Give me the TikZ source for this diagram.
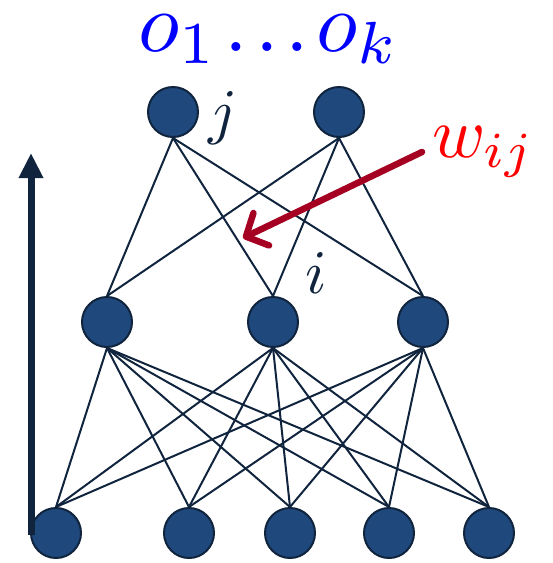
\documentclass[tikz,border=0pt]{standalone}
\usetikzlibrary{arrows.meta}
\definecolor{cNode}{RGB}{31,73,125}
\definecolor{cRim} {RGB}{16,36,62}
\definecolor{cLink}{RGB}{16,36,62}
\definecolor{cWgt} {RGB}{165,0,33}
\definecolor{cOut} {RGB}{0,0,255}
\definecolor{cWlab}{RGB}{255,0,0}
\tikzset{
  neuron/.style = {circle, draw=cRim, fill=cNode, line width=2pt,
                   minimum size=50pt, inner sep=0pt},
  link/.style   = {cLink, line width=2pt},
  idx/.style    = {text=cRim, inner sep=0pt, scale=6.2},
  outlab/.style = {text=cOut, inner sep=0pt, scale=8.5},
  wlab/.style   = {text=cWlab, inner sep=0pt, scale=7.2},
  upflow/.style = {-{Triangle[length=25pt, width=23pt]}, cRim, line width=7pt},
  wptr/.style   = {-{Straight Barb[round, length=17pt, width=36pt]}, cWgt,
                   line width=6.5pt, line cap=round},
}
\begin{document}
\begin{tikzpicture}[x=1pt, y=-1pt]
  \useasboundingbox (0,0) rectangle (553,563);

  %% ---------------- layers ------------------------------------------
  \node[neuron] (t1) at (173,112) {};
  \node[neuron] (t2) at (339,112) {};
  \foreach \n/\x in {1/107, 2/273, 3/423}
    \node[neuron] (m\n) at (\x,322) {};
  \foreach \n/\x in {1/56, 2/189, 3/290, 4/389, 5/489}
    \node[neuron] (b\n) at (\x,533) {};

  %% ---------------- connections -------------------------------------
  \foreach \a in {1,2}
    \foreach \b in {1,2,3}
      \draw[link] (t\a.south) -- (m\b.north);
  \foreach \a in {1,2,3}
    \foreach \b in {1,...,5}
      \draw[link] (m\a.south) -- (b\b.north);

  %% ---------------- labels ------------------------------------------
  \node[outlab, anchor=base] (outs) at (269,51)
    {$o_1\mkern1.5mu.\mkern1.5mu.\mkern1.5mu.\mkern1.5mu o_k$};
  \node[idx, anchor=base] (jlab) at (223,132) {$j$};
  \node[idx, anchor=base] (ilab) at (316,293) {$i$};
  \node[wlab, anchor=base west] (wij) at (431,157) {$w_{ij}$};

  %% ---------------- arrows ------------------------------------------
  \coordinate (abot) at (31,535);
  \coordinate (atop) at (31,153);
  \draw[upflow] (abot) -- (atop);
  \coordinate (wfrom) at (422,152);
  \coordinate (wto)   at (243,238);
  \draw[wptr] (wfrom) -- (wto);
\end{tikzpicture}
\end{document}
